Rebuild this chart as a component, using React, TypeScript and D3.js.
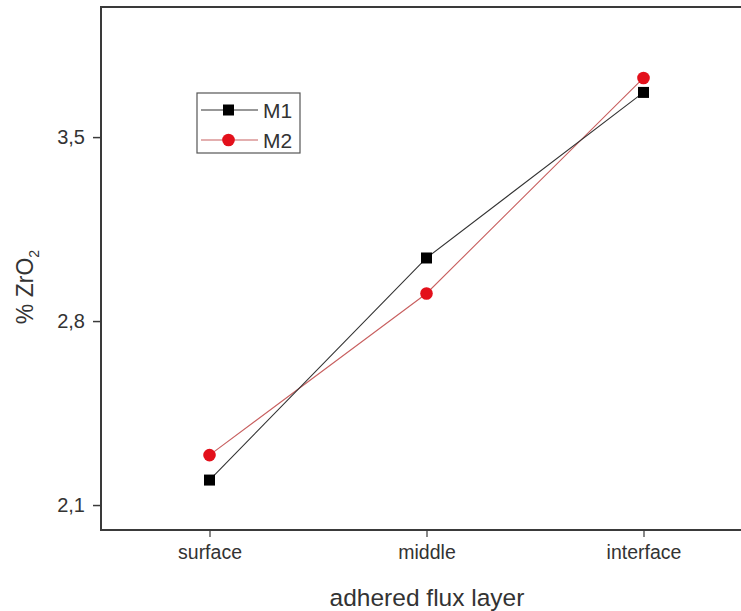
import React, { useEffect, useRef } from "react";
import * as d3 from "d3";

const layers = ["surface", "middle", "interface"];
const m1 = [2.195, 3.04, 3.67];
const m2 = [2.29, 2.905, 3.725];
const yTicks = [2.1, 2.8, 3.5];
const seriesNames = ["M1", "M2"];

export default function App() {
  const ref = useRef<SVGSVGElement>(null);

  useEffect(() => {
    const width = 741;
    const height = 611;
    const left = 101;
    const top = 7;
    const bottom = 530;
    const right = 752;
    const font = "Arial, 'Liberation Sans', sans-serif";

    const svg = d3.select(ref.current);
    svg.selectAll("*").remove();
    svg.attr("width", width).attr("height", height).style("background", "#fff");

    const x = d3.scalePoint<string>().domain(layers).range([left, right]).padding(0.5);
    const y = d3.scaleLinear().domain([2.005, 3.995]).range([bottom, top]);

    // frame
    svg
      .append("path")
      .attr("d", `M${right},${top}H${left}V${bottom}H${right}`)
      .attr("fill", "none")
      .attr("stroke", "#3a3a3a")
      .attr("stroke-width", 2);

    // y axis
    const yAxis = svg
      .append("g")
      .attr("transform", `translate(${left},0)`)
      .call(
        d3
          .axisLeft(y)
          .tickValues(yTicks)
          .tickSize(8)
          .tickPadding(8)
          .tickFormat((d) => d3.format(".1f")(d as number).replace(".", ","))
      );
    yAxis.select(".domain").remove();
    yAxis.selectAll("line").attr("stroke", "#3a3a3a").attr("stroke-width", 1.5);
    yAxis
      .selectAll("text")
      .attr("fill", "#333")
      .style("font-family", font)
      .style("font-size", "20px");

    // x axis
    const xAxis = svg
      .append("g")
      .attr("transform", `translate(0,${bottom})`)
      .call(d3.axisBottom(x).tickSize(7).tickPadding(8));
    xAxis.select(".domain").remove();
    xAxis.selectAll("line").attr("stroke", "#3a3a3a").attr("stroke-width", 1.2);
    xAxis
      .selectAll("text")
      .attr("fill", "#333")
      .style("font-family", font)
      .style("font-size", "19.5px");

    // axis titles
    svg
      .append("text")
      .attr("x", 427)
      .attr("y", 606)
      .attr("text-anchor", "middle")
      .attr("fill", "#333")
      .style("font-family", font)
      .style("font-size", "24.5px")
      .text("adhered flux layer");

    const yt = svg
      .append("text")
      .attr("transform", "translate(33,287) rotate(-90)")
      .attr("text-anchor", "middle")
      .attr("fill", "#333")
      .style("font-family", font)
      .style("font-size", "23px");
    yt.append("tspan").text("% ZrO");
    yt.append("tspan").attr("font-size", "14px").attr("dy", 6).text("2");

    const line = d3
      .line<number>()
      .x((d, i) => x(layers[i]) as number)
      .y((d) => y(d));

    svg
      .append("path")
      .datum(m2)
      .attr("d", line)
      .attr("fill", "none")
      .attr("stroke", "#c86060")
      .attr("stroke-width", 1.1);

    svg
      .append("path")
      .datum(m1)
      .attr("d", line)
      .attr("fill", "none")
      .attr("stroke", "#333")
      .attr("stroke-width", 1.1);

    svg
      .selectAll(".m1")
      .data(m1)
      .enter()
      .append("rect")
      .attr("x", (d, i) => (x(layers[i]) as number) - 5.5)
      .attr("y", (d) => y(d) - 5.5)
      .attr("width", 11)
      .attr("height", 11)
      .attr("fill", "#000");

    svg
      .selectAll(".m2")
      .data(m2)
      .enter()
      .append("circle")
      .attr("cx", (d, i) => x(layers[i]) as number)
      .attr("cy", (d) => y(d))
      .attr("r", 6.3)
      .attr("fill", "#e3101b");

    // legend
    const lg = svg.append("g").attr("transform", "translate(197,93)");
    lg.append("rect")
      .attr("width", 103)
      .attr("height", 60)
      .attr("fill", "#fff")
      .attr("stroke", "#555")
      .attr("stroke-width", 1.2);
    seriesNames.forEach((name, i) => {
      const cy = 17 + i * 30;
      lg.append("line")
        .attr("x1", 4)
        .attr("x2", 61)
        .attr("y1", cy)
        .attr("y2", cy)
        .attr("stroke", i === 0 ? "#333" : "#c86060")
        .attr("stroke-width", 1.1);
      if (i === 0) {
        lg.append("rect").attr("x", 26).attr("y", cy - 5.5).attr("width", 11).attr("height", 11).attr("fill", "#000");
      } else {
        lg.append("circle").attr("cx", 31.5).attr("cy", cy).attr("r", 6.3).attr("fill", "#e3101b");
      }
      lg.append("text")
        .attr("x", 66)
        .attr("y", cy + 7.5)
        .attr("fill", "#333")
        .style("font-family", font)
        .style("font-size", "21px")
        .text(name);
    });
  }, []);

  return (
    <div style={{ position: "absolute", left: 0, top: 0 }}>
      <svg ref={ref}></svg>
    </div>
  );
}
